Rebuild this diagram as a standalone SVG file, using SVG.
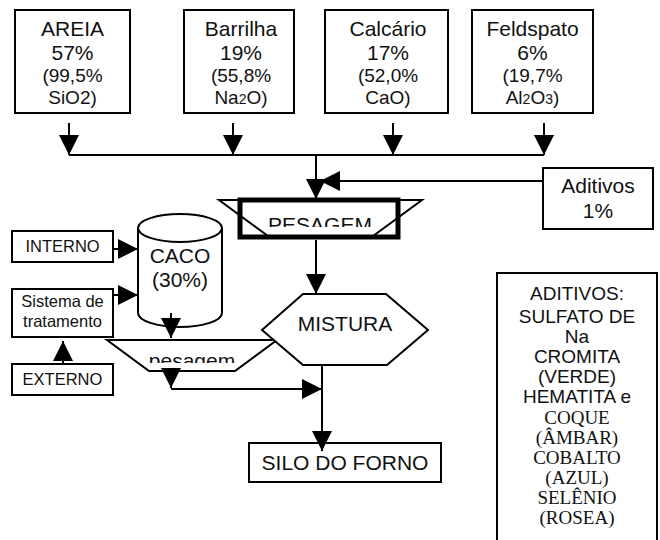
<svg xmlns="http://www.w3.org/2000/svg" width="660" height="540" viewBox="0 0 660 540">
  <style>
    .box { fill: #fff; stroke: #000; stroke-width: 2; }
    .thick { fill: #fff; stroke: #000; stroke-width: 5; }
    .edge { fill: none; stroke: #000; stroke-width: 2; }
    .t { font-family: "Liberation Sans", Arial, sans-serif; fill: #111; text-anchor: middle; }
    .s { font-family: "Liberation Serif", "Times New Roman", serif; fill: #111; text-anchor: middle; }
    .big { font-size: 21px; }
    .mid { font-size: 19px; }
    .sm { font-size: 16.5px; }
    .sub { font-size: 14px; }
  </style>
  <defs>
    <marker id="arrow" markerUnits="userSpaceOnUse" markerWidth="20" markerHeight="20" viewBox="0 0 20 20" refX="20" refY="10" orient="auto">
      <path d="M0,0 L20,10 L0,20 Z" fill="#000"/>
    </marker>
    <clipPath id="clipPesagem"><rect x="240" y="200" width="160" height="27"/></clipPath>
    <clipPath id="clipPesagemLow"><rect x="107" y="340" width="170" height="23"/></clipPath>
  </defs>

  <!-- raw materials -->
  <g id="areia">
    <rect class="box" x="15" y="10" width="115" height="103"/>
    <text class="t big" x="72.5" y="36">AREIA</text>
    <text class="t big" x="72.5" y="60">57%</text>
    <text class="t mid" x="72.5" y="82">(99,5%</text>
    <text class="t mid" x="72.5" y="104">SiO2)</text>
  </g>
  <g id="barrilha">
    <rect class="box" x="184" y="10" width="110" height="103"/>
    <text class="t big" x="241" y="36">Barrilha</text>
    <text class="t big" x="241" y="60">19%</text>
    <text class="t mid" x="241" y="82">(55,8%</text>
    <text class="t mid" x="241" y="104">Na<tspan class="sub">2</tspan>O)</text>
  </g>
  <g id="calcario">
    <rect class="box" x="325" y="10" width="123" height="103"/>
    <text class="t big" x="388" y="36">Calcário</text>
    <text class="t big" x="388" y="60">17%</text>
    <text class="t mid" x="388" y="82">(52,0%</text>
    <text class="t mid" x="388" y="104">CaO)</text>
  </g>
  <g id="feldspato">
    <rect class="box" x="472" y="10" width="121" height="103"/>
    <text class="t big" x="532.5" y="36">Feldspato</text>
    <text class="t big" x="532.5" y="60">6%</text>
    <text class="t mid" x="532.5" y="82">(19,7%</text>
    <text class="t mid" x="532.5" y="104">Al<tspan class="sub">2</tspan>O<tspan class="sub">3</tspan>)</text>
  </g>

  <g id="aditivos">
    <rect class="box" x="543" y="168" width="110" height="61"/>
    <text class="t big" x="598" y="193">Aditivos</text>
    <text class="t big" x="598" y="218">1%</text>
  </g>

  <!-- weighing station -->
  <g id="pesagem">
    <rect class="thick" x="240" y="200" width="158" height="37"/>
    <path class="edge" d="M219,200 H422 L373,236 H268 Z"/>
    <text class="t big" x="320" y="232" clip-path="url(#clipPesagem)">PESAGEM</text>
  </g>

  <!-- cullet sources -->
  <g id="interno">
    <rect class="box" x="12" y="231" width="101" height="31"/>
    <text class="t sm" x="62.5" y="252">INTERNO</text>
  </g>
  <g id="sistema">
    <rect class="box" x="12" y="289" width="101" height="48"/>
    <text class="t sm" x="62.5" y="307">Sistema de</text>
    <text class="t sm" x="62.5" y="327">tratamento</text>
  </g>
  <g id="externo">
    <rect class="box" x="12" y="364" width="101" height="31"/>
    <text class="t sm" x="62.5" y="385">EXTERNO</text>
  </g>

  <g id="caco">
    <path class="box" d="M138,228 V313 A42,14 0 0 0 222,313 V228"/>
    <ellipse class="box" cx="180" cy="228" rx="42" ry="14"/>
    <text class="t big" x="180" y="263">CACO</text>
    <text class="t big" x="180" y="287">(30%)</text>
  </g>

  <g id="pesagem-caco">
    <path class="box" d="M107,340 H277 L235,371 H149 Z"/>
    <text class="t big" x="192" y="368" clip-path="url(#clipPesagemLow)">pesagem</text>
  </g>

  <g id="mistura">
    <path class="box" d="M303,294 H386 L428,330 L387,365 H303 L262,330 Z"/>
    <text class="t big" x="345" y="331">MISTURA</text>
  </g>

  <g id="silo">
    <rect class="box" x="249" y="443" width="192" height="39"/>
    <text class="t big" x="345" y="470">SILO DO FORNO</text>
  </g>

  <g id="lista-aditivos">
    <rect class="box" x="497" y="273" width="160" height="280"/>
    <text class="t mid" x="577" y="300">ADITIVOS:</text>
    <text class="t mid" x="577" y="323">SULFATO DE</text>
    <text class="t mid" x="577" y="343">Na</text>
    <text class="t mid" x="577" y="363">CROMITA</text>
    <text class="t mid" x="577" y="383">(VERDE)</text>
    <text class="t mid" x="577" y="403">HEMATITA e</text>
    <text class="s mid" x="577" y="424">COQUE</text>
    <text class="s mid" x="577" y="444">(ÂMBAR)</text>
    <text class="s mid" x="577" y="464">COBALTO</text>
    <text class="s mid" x="577" y="484">(AZUL)</text>
    <text class="s mid" x="577" y="504">SELÊNIO</text>
    <text class="s mid" x="577" y="524">(ROSEA)</text>
  </g>

  <!-- connectors -->
  <g id="connectors" class="edge">
    <path d="M69,123 V155" marker-end="url(#arrow)"/>
    <path d="M233,123 V155" marker-end="url(#arrow)"/>
    <path d="M393,123 V155" marker-end="url(#arrow)"/>
    <path d="M544,123 V155" marker-end="url(#arrow)"/>
    <path d="M69,155 H544"/>
    <path d="M316,155 V199" marker-end="url(#arrow)"/>
    <path d="M543,181 H320" marker-end="url(#arrow)"/>
    <path d="M316,240 V294" marker-end="url(#arrow)"/>
    <path d="M322,365 V451" marker-end="url(#arrow)"/>
    <path d="M113,249 H138" marker-end="url(#arrow)"/>
    <path d="M113,295 H138" marker-end="url(#arrow)"/>
    <path d="M63,364 V341" marker-end="url(#arrow)"/>
    <path d="M171,313 V338" marker-end="url(#arrow)"/>
    <path d="M171,371 V388" marker-end="url(#arrow)"/>
    <path d="M171,389 H322" marker-end="url(#arrow)"/>
  </g>
</svg>
